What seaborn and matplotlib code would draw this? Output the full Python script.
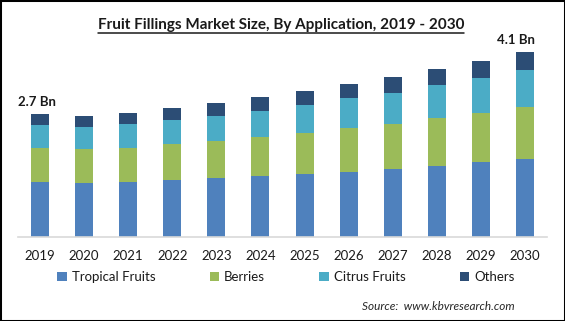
import matplotlib
matplotlib.use("Agg")
import matplotlib.pyplot as plt
from matplotlib.patches import Patch, Rectangle
from matplotlib.lines import Line2D
import numpy as np
import pandas as pd
import seaborn as sns

# Market size by application, USD billion
years = ["2019", "2020", "2021", "2022", "2023", "2024",
         "2025", "2026", "2027", "2028", "2029", "2030"]
tropical_fruits = [1.20, 1.17, 1.20, 1.24, 1.29, 1.33, 1.38, 1.43, 1.49, 1.56, 1.63, 1.71]
berries = [0.74, 0.75, 0.76, 0.79, 0.81, 0.86, 0.90, 0.95, 0.98, 1.04, 1.10, 1.15]
citrus_fruits = [0.52, 0.49, 0.51, 0.54, 0.56, 0.57, 0.62, 0.66, 0.69, 0.73, 0.77, 0.81]
others = [0.24, 0.24, 0.26, 0.26, 0.28, 0.31, 0.31, 0.31, 0.35, 0.35, 0.37, 0.40]

series_names = ["Tropical Fruits", "Berries", "Citrus Fruits", "Others"]
series_colors = ["#4F81BD", "#9BBB59", "#4BACC6", "#2C4D75"]

sns.set_theme(style="white")
plt.rcParams["font.family"] = ["Lato", "DejaVu Sans"]

W, H = 565, 321
fig = plt.figure(figsize=(W / 100, H / 100), dpi=100)

ymax = 4.6
px_per_unit = 45.4
base_px = 236.5
ax_h = ymax * px_per_unit
ax = fig.add_axes([18 / W, (H - base_px) / H, (547 - 18) / W, ax_h / H])

df = pd.DataFrame({"year": years,
                   "Tropical Fruits": tropical_fruits,
                   "Berries": berries,
                   "Citrus Fruits": citrus_fruits,
                   "Others": others})

# Stacked bars: draw cumulative totals from the top segment down
cum = df[series_names].cumsum(axis=1)
for name, color in reversed(list(zip(series_names, series_colors))):
    sns.barplot(x=df["year"], y=cum[name], color=color, width=0.41,
                saturation=1, ax=ax, edgecolor="none", linewidth=0)

ax.set_ylim(0, ymax)
ax.set_xlim(-0.5, len(years) - 0.5)
ax.set_xlabel("")
ax.set_ylabel("")
ax.set_yticks([])
for s in ["top", "right", "left"]:
    ax.spines[s].set_visible(False)
ax.spines["bottom"].set_color("#D9D9D9")
ax.spines["bottom"].set_linewidth(1.2)
ax.tick_params(axis="x", length=0, pad=10, labelsize=9.5, labelcolor="#1a1a1a")

totals = cum["Others"].to_numpy()
ax.text(0 - 0.07, totals[0] + 0.27, f"{totals[0]:.1f} Bn", ha="center", va="center",
        fontsize=9.5, fontweight="bold", color="#1a1a1a")
ax.text(len(years) - 1 - 0.2, totals[-1] + 0.25, f"{totals[-1]:.1f} Bn", ha="center",
        va="center", fontsize=9.5, fontweight="bold", color="#1a1a1a")

# Title with underline
title = fig.text(281 / W, 1 - 25 / H,
                 "Fruit Fillings Market Size, By Application, 2019 - 2030",
                 ha="center", va="center", fontsize=11, fontweight="bold", color="#1a1a1a")
fig.canvas.draw()
bb = title.get_window_extent()
uy = (H - 33) / H
fig.add_artist(Line2D([bb.x0 / W, bb.x1 / W], [uy, uy], color="#1a1a1a", lw=1.1,
                      transform=fig.transFigure))

handles = [Patch(facecolor=c, edgecolor="none", label=n)
           for n, c in zip(series_names, series_colors)]
fig.legend(handles=handles, loc="center", bbox_to_anchor=(286 / W, 1 - 277 / H),
           ncol=4, frameon=False, fontsize=9.5, handlelength=0.7, handleheight=0.7,
           handletextpad=0.4, columnspacing=4.1, labelcolor="#1a1a1a")

fig.text(515 / W, 1 - 306 / H, "Source:  www.kbvresearch.com", ha="right", va="center",
         fontsize=8.5, fontstyle="italic", color="#262626")

fig.add_artist(Rectangle((0, 0), 1, 1, transform=fig.transFigure, fill=False,
                         edgecolor="black", linewidth=2.2))

fig.savefig("out.png", dpi=100)
